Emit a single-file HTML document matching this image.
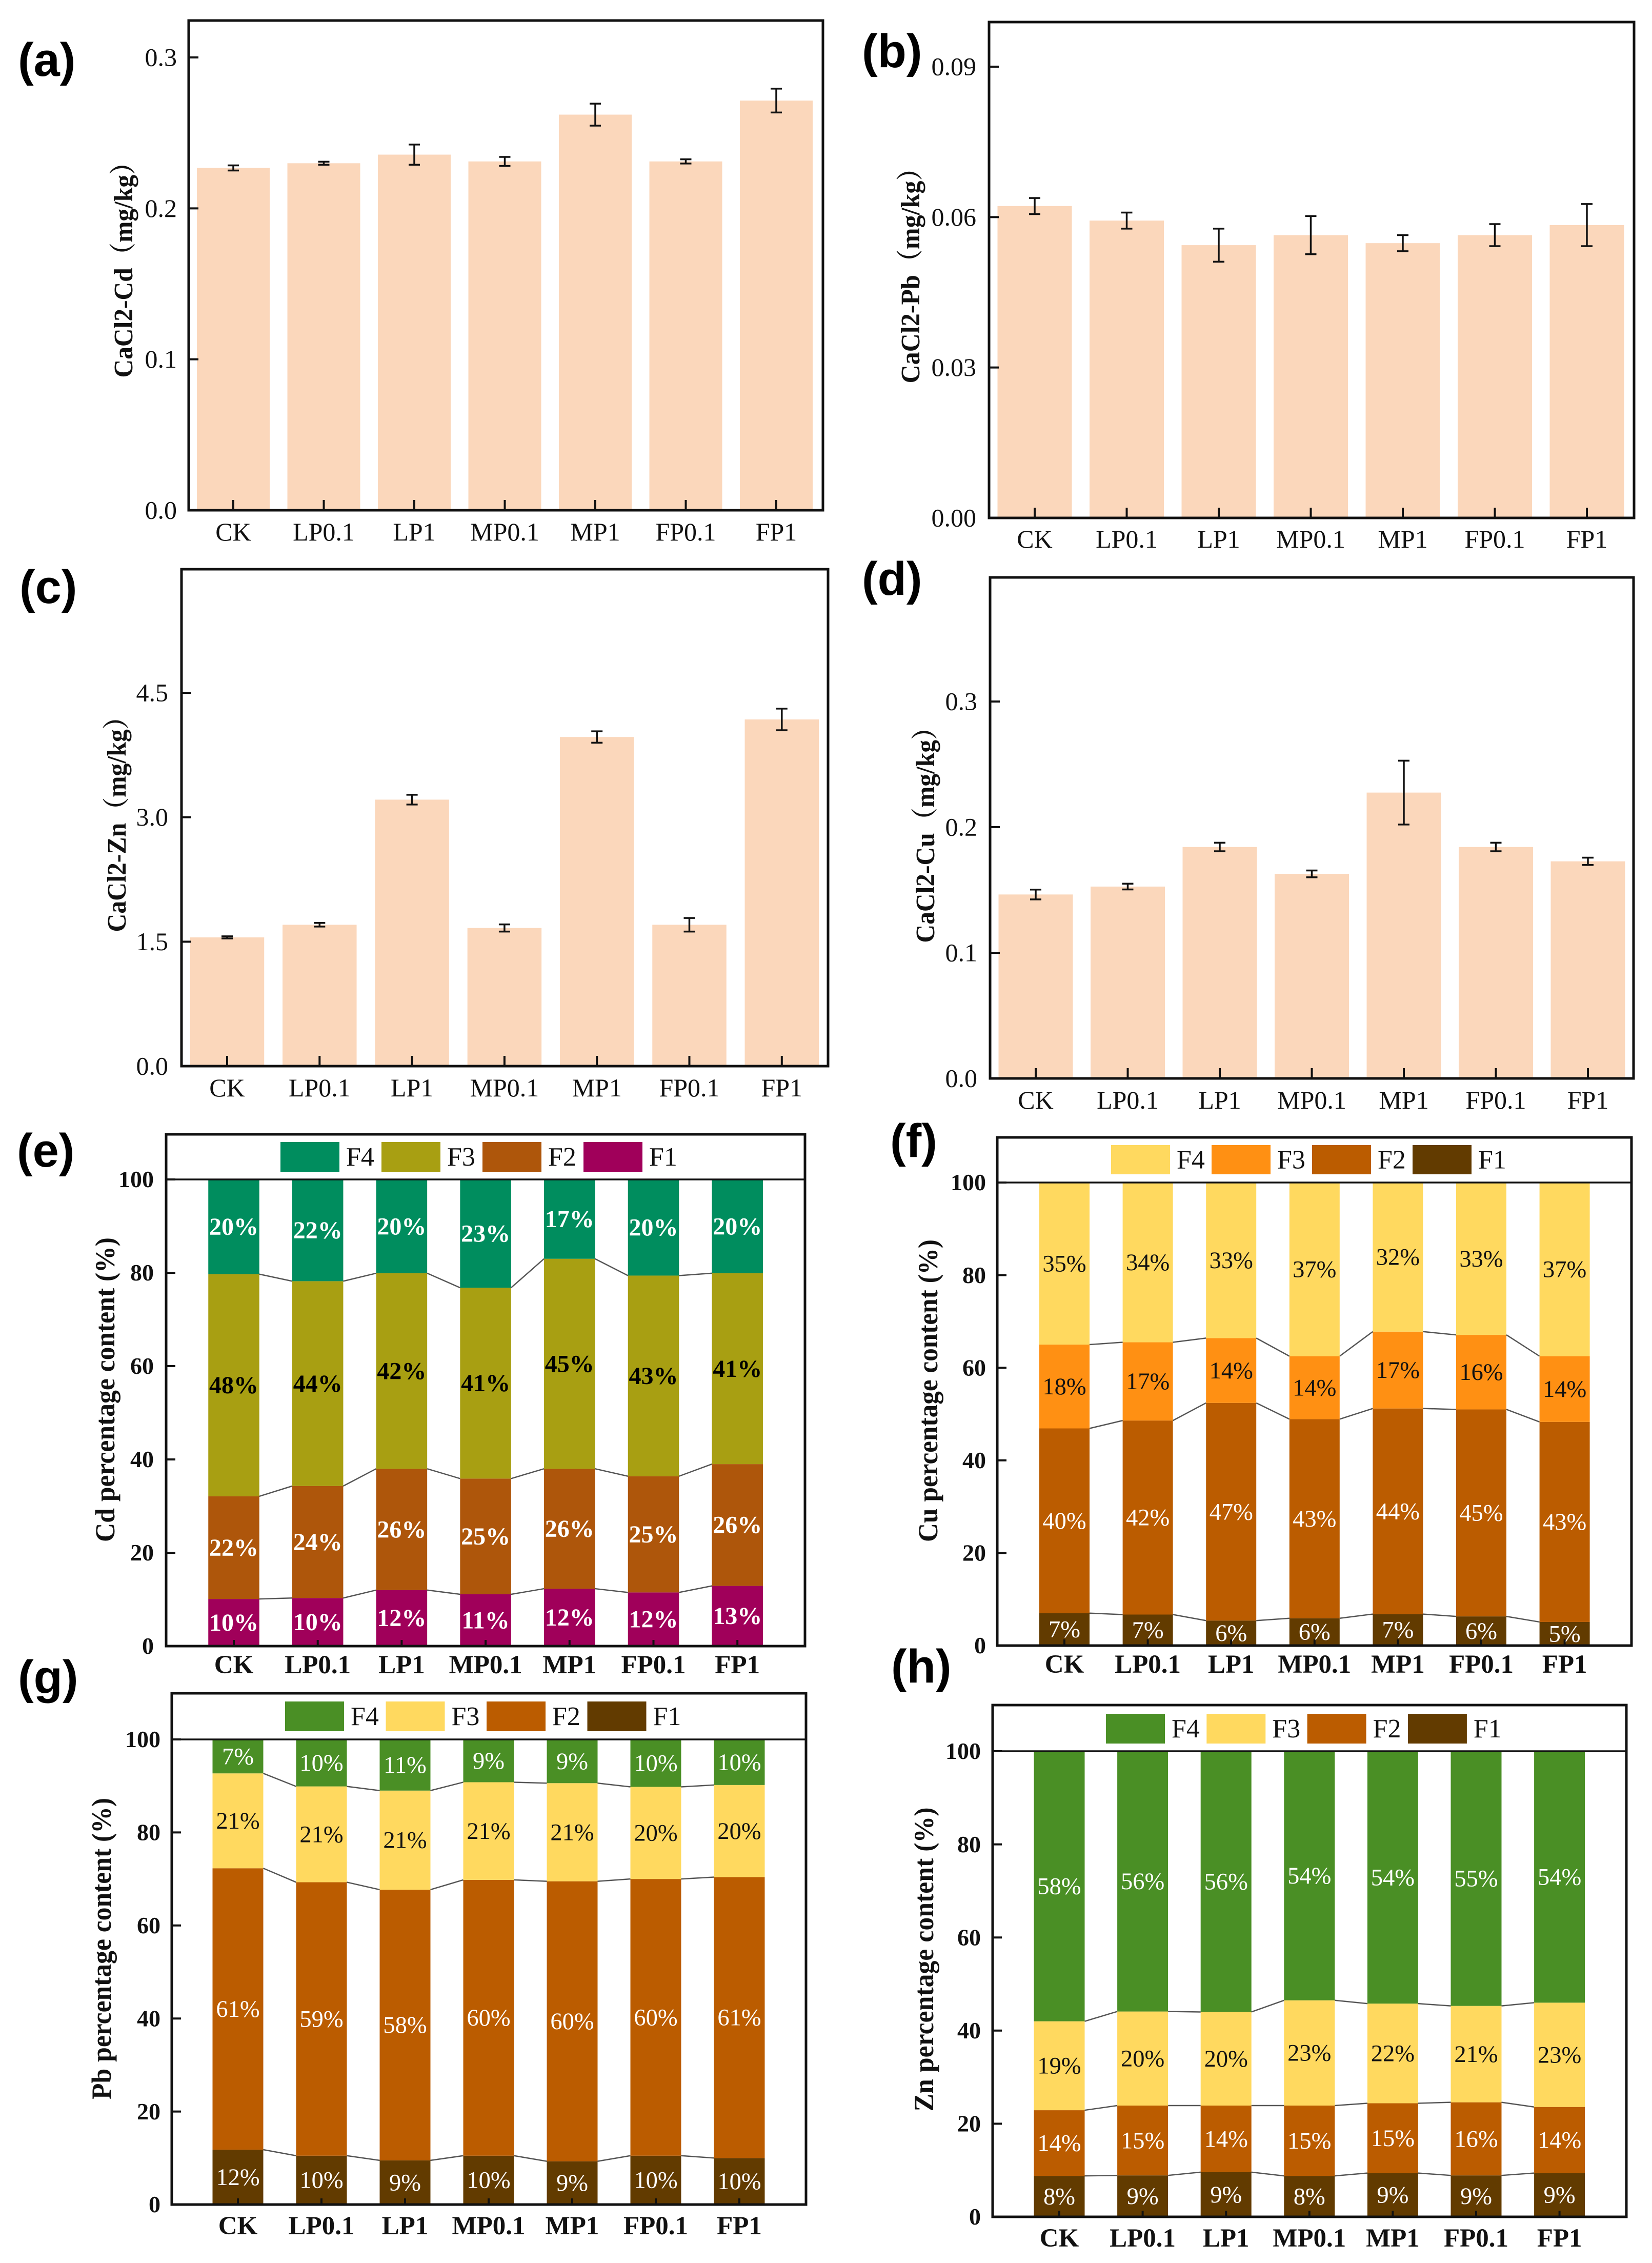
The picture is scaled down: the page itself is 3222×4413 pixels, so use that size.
<!DOCTYPE html>
<html lang="en">
<head>
<meta charset="utf-8">
<title>CaCl2-extractable metals and fraction percentages</title>
<style>
html,body{margin:0;padding:0;background:#fff;}
svg{display:block;}
text{font-family:"Liberation Serif","Noto Serif CJK SC",serif;}
.panel-letter{font-family:"Liberation Sans",sans-serif;font-weight:bold;}
</style>
</head>
<body>
<svg id="figure" xmlns="http://www.w3.org/2000/svg" width="3222" height="4413" viewBox="0 0 3222 4413"></svg>
<script>
const categories = ['CK','LP0.1','LP1','MP0.1','MP1','FP0.1','FP1'];
const legendNames = ['F4','F3','F2','F1'];

const cdMeans = [0.2268,0.2299,0.2356,0.2311,0.2621,0.2311,0.2714];
const cdErrors = [0.0017,0.0010,0.0067,0.0030,0.0073,0.0014,0.0079];
const cdTicks = ['0.0','0.1','0.2','0.3'];
const pbMeans = [0.0622,0.0593,0.0544,0.0564,0.0548,0.0564,0.0584];
const pbErrors = [0.0016,0.0016,0.0033,0.0038,0.0016,0.0022,0.0042];
const pbTicks = ['0.00','0.03','0.06','0.09'];
const znMeans = [1.552,1.704,3.212,1.665,3.967,1.704,4.179];
const znErrors = [0.013,0.022,0.059,0.043,0.069,0.082,0.130];
const znTicks = ['0.0','1.5','3.0','4.5'];
const cuMeans = [0.1464,0.1527,0.1842,0.1628,0.2275,0.1842,0.1728];
const cuErrors = [0.0039,0.0023,0.0034,0.0027,0.0254,0.0034,0.0029];
const cuTicks = ['0.0','0.1','0.2','0.3'];

const percentTicks = ['0','20','40','60','80','100'];

const cdFracF1 = [10.1,10.3,12.0,11.1,12.3,11.5,12.9];
const cdFracF2 = [22.0,24.0,26.0,24.8,25.7,24.9,26.1];
const cdFracF3 = [47.6,43.9,41.9,40.9,45.0,43.0,40.9];
const cdFracF4 = [20.3,21.8,20.1,23.2,17.0,20.6,20.1];
const cdLabelF1 = ['10%','10%','12%','11%','12%','12%','13%'];
const cdLabelF2 = ['22%','24%','26%','25%','26%','25%','26%'];
const cdLabelF3 = ['48%','44%','42%','41%','45%','43%','41%'];
const cdLabelF4 = ['20%','22%','20%','23%','17%','20%','20%'];

const cuFracF1 = [7.0,6.7,5.4,5.9,6.8,6.3,5.1];
const cuFracF2 = [39.9,41.9,47.0,43.0,44.4,44.7,43.2];
const cuFracF3 = [18.1,16.9,14.0,13.6,16.6,16.1,14.2];
const cuFracF4 = [35.0,34.5,33.6,37.5,32.2,32.9,37.5];
const cuLabelF1 = ['7%','7%','6%','6%','7%','6%','5%'];
const cuLabelF2 = ['40%','42%','47%','43%','44%','45%','43%'];
const cuLabelF3 = ['18%','17%','14%','14%','17%','16%','14%'];
const cuLabelF4 = ['35%','34%','33%','37%','32%','33%','37%'];

const pbFracF1 = [11.8,10.5,9.5,10.5,9.3,10.5,10.0];
const pbFracF2 = [60.5,58.8,58.2,59.3,60.2,59.5,60.4];
const pbFracF3 = [20.4,20.6,21.3,21.0,21.1,19.8,19.8];
const pbFracF4 = [7.3,10.1,11.0,9.2,9.4,10.2,9.8];
const pbLabelF1 = ['12%','10%','9%','10%','9%','10%','10%'];
const pbLabelF2 = ['61%','59%','58%','60%','60%','60%','61%'];
const pbLabelF3 = ['21%','21%','21%','21%','21%','20%','20%'];
const pbLabelF4 = ['7%','10%','11%','9%','9%','10%','10%'];

const znFracF1 = [8.8,8.9,9.6,8.8,9.4,8.9,9.4];
const znFracF2 = [14.1,15.0,14.3,15.1,15.0,15.7,14.2];
const znFracF3 = [19.1,20.2,20.1,22.6,21.4,20.7,22.4];
const znFracF4 = [58.0,55.9,56.0,53.5,54.2,54.7,54.0];
const znLabelF1 = ['8%','9%','9%','8%','9%','9%','9%'];
const znLabelF2 = ['14%','15%','14%','15%','15%','16%','14%'];
const znLabelF3 = ['19%','20%','20%','23%','22%','21%','23%'];
const znLabelF4 = ['58%','56%','56%','54%','54%','55%','54%'];

const NS = 'http://www.w3.org/2000/svg';
const figure = document.getElementById('figure');

function shape(parent, tag, attrs) {
  const el = document.createElementNS(NS, tag);
  for (const k in attrs) el.setAttribute(k, attrs[k]);
  parent.appendChild(el);
  return el;
}
function label(parent, content, attrs) {
  const el = shape(parent, 'text', attrs);
  el.textContent = content;
  return el;
}

function drawFrame(g, p, yFn, tickLabels, tickValues, o) {
  for (let i = 0; i < tickLabels.length; i++) {
    const ty = yFn(tickValues[i]);
    const tick = shape(g, 'line', {x1:p.left, x2:p.left + o.tickLeft, y1:ty, y2:ty, stroke:'#111', 'stroke-width':4});
    
    
    const tl = label(g, tickLabels[i], {x:p.tickEnd, y:ty + o.tickFont * 0.33, 'text-anchor':'end', 'font-size':o.tickFont, 'font-weight':o.weight, fill:'#111'});
    
    
  }
  for (let i = 0; i < categories.length; i++) {
    const cx = p.x0 + i * p.step;
    const tick = shape(g, 'line', {x1:cx, x2:cx, y1:p.bottom, y2:p.bottom - o.tickBottom, stroke:'#111', 'stroke-width':4});
    
    
    const tl = label(g, categories[i], {x:cx, y:p.xBase, 'text-anchor':'middle', 'font-size':o.xFont, 'font-weight':o.weight, fill:'#111'});
    
    
  }
  const frame = shape(g, 'rect', {x:p.left, y:p.top, width:p.right - p.left, height:p.bottom - p.top, fill:'none', stroke:'#111', 'stroke-width':5});
  
  
  const tb = p.titleCx + o.titleFont * 0.33;
  const title = label(g, p.title, {x:0, y:0, transform:'translate(' + tb + ',' + p.titleCy + ') rotate(-90)', 'text-anchor':'middle', 'font-size':o.titleFont, 'font-weight':'bold', fill:'#111', textLength:p.titleLen, lengthAdjust:'spacingAndGlyphs'});
  
  
  const letter = label(g, p.letter, {x:p.letterX, y:p.letterY, 'font-size':92, fill:'#000', class:'panel-letter'});
  
  
}

function drawBarPanel(p, means, errors, ticks) {
  const g = shape(figure, 'g', {});
  
  
  const y = v => p.bottom - v / p.tickMax * (p.bottom - p.tickMaxY);
  for (let i = 0; i < means.length; i++) {
    const cx = p.x0 + i * p.step;
    const bar = shape(g, 'rect', {x:cx - p.barW / 2, y:y(means[i]), width:p.barW, height:p.bottom - y(means[i]), fill:'#FBD7BB'});
    
    
  }
  for (let i = 0; i < means.length; i++) {
    const cx = p.x0 + i * p.step;
    const hi = y(means[i] + errors[i]);
    const lo = y(means[i] - errors[i]);
    const err = shape(g, 'path', {d:'M' + (cx - 11) + ' ' + hi + 'H' + (cx + 11) + 'M' + cx + ' ' + hi + 'V' + lo + 'M' + (cx - 11) + ' ' + lo + 'H' + (cx + 11), fill:'none', stroke:'#111', 'stroke-width':3.5});
    
    
  }
  const tickValues = ticks.map(t => parseFloat(t));
  drawFrame(g, p, y, ticks, tickValues, {tickLeft:19, tickBottom:20, tickFont:50, xFont:50, titleFont:52, weight:'normal'});
}

function drawStackPanel(p, f1, f2, f3, f4, l1, l2, l3, l4) {
  const g = shape(figure, 'g', {});
  
  
  const y = v => p.bottom - v / 100 * (p.bottom - p.y100);
  const x = i => p.x0 + i * p.step;
  const layers = [
    {vals:f1, labs:l1, color:p.colors[3], text:p.textColors[3], key:'f1'},
    {vals:f2, labs:l2, color:p.colors[2], text:p.textColors[2], key:'f2'},
    {vals:f3, labs:l3, color:p.colors[1], text:p.textColors[1], key:'f3'},
    {vals:f4, labs:l4, color:p.colors[0], text:p.textColors[0], key:'f4'}
  ];
  const base = categories.map(() => 0);
  layers.forEach((layer, li) => {
    const tops = layer.vals.map((v, i) => base[i] + v);
    for (let i = 0; i < tops.length; i++) {
      const seg = shape(g, 'rect', {x:x(i) - p.barW / 2, y:y(tops[i]), width:p.barW, height:y(base[i]) - y(tops[i]), fill:layer.color});
      
      
    }
    if (li < 3) {
      for (let i = 0; i < tops.length - 1; i++) {
        const link = shape(g, 'line', {x1:x(i) + p.barW / 2, x2:x(i + 1) - p.barW / 2, y1:y(tops[i]), y2:y(tops[i + 1]), stroke:'#555', 'stroke-width':2.5});
        
        
      }
    }
    for (let i = 0; i < tops.length; i++) {
      const mid = y((base[i] + tops[i]) / 2);
      const val = label(g, layer.labs[i], {x:x(i), y:mid + p.valueFont * 0.33, 'text-anchor':'middle', 'font-size':p.valueFont, 'font-weight':p.valueWeight, fill:layer.text});
      
      
    }
    for (let i = 0; i < tops.length; i++) base[i] = tops[i];
  });
  const sep = shape(g, 'line', {x1:p.left, x2:p.right, y1:p.y100, y2:p.y100, stroke:'#111', 'stroke-width':3.5});
  
  
  legendNames.forEach((nm, i) => {
    const lx = p.legendX + i * p.legendStep;
    const sw = shape(g, 'rect', {x:lx, y:p.legendY, width:115, height:p.legendH, fill:p.colors[i]});
    
    
    const tx = label(g, nm, {x:lx + 128, y:p.legendY + p.legendH / 2 + 17, 'font-size':52, fill:'#111'});
    
    
  });
  const tickValues = percentTicks.map(t => parseFloat(t));
  drawFrame(g, p, y, percentTicks, tickValues, {tickLeft:18, tickBottom:12, tickFont:46, xFont:51, titleFont:54, weight:'bold'});
}

const GREEN = '#4A8F25', YEL = '#FFD95F', ORG = '#FF9013', BRN = '#BB5C00', DRK = '#623B00';

drawBarPanel({name:'panel-a-cd', left:368, right:1605, top:40, bottom:995, tickMax:0.3, tickMaxY:112, x0:455, step:176.5, barW:142, tickEnd:345, xBase:1054, title:'CaCl2-Cd（mg/kg）', titleCx:241, titleCy:514, titleLen:445, letter:'(a)', letterX:35, letterY:148}, cdMeans, cdErrors, cdTicks);
drawBarPanel({name:'panel-b-pb', left:1929, right:3187, top:43, bottom:1010, tickMax:0.09, tickMaxY:130, x0:2018, step:179.5, barW:145, tickEnd:1904, xBase:1068, title:'CaCl2-Pb（mg/kg）', titleCx:1776, titleCy:525, titleLen:445, letter:'(b)', letterX:1681, letterY:131}, pbMeans, pbErrors, pbTicks);
drawBarPanel({name:'panel-c-zn', left:354, right:1615, top:1110, bottom:2079, tickMax:4.5, tickMaxY:1351, x0:443, step:180.3, barW:144.5, tickEnd:328, xBase:2138, title:'CaCl2-Zn（mg/kg）', titleCx:228, titleCy:1595, titleLen:445, letter:'(c)', letterX:38, letterY:1176}, znMeans, znErrors, znTicks);
drawBarPanel({name:'panel-d-cu', left:1931, right:3186, top:1126, bottom:2103, tickMax:0.3, tickMaxY:1368, x0:2020, step:179.5, barW:145, tickEnd:1906, xBase:2162, title:'CaCl2-Cu（mg/kg）', titleCx:1805, titleCy:1616, titleLen:445, letter:'(d)', letterX:1681, letterY:1160}, cuMeans, cuErrors, cuTicks);

drawStackPanel({name:'panel-e-cd-fractions', left:324, right:1570, top:2212, bottom:3210, y100:2300, x0:456, step:163.7, barW:99.5, tickEnd:300, xBase:3263, title:'Cd percentage content (%)', titleCx:205, titleCy:2710, titleLen:594, letter:'(e)', letterX:33, letterY:2275, colors:['#008D5E','#A89F12','#AE560B','#A0005A'], textColors:['#fff','#000','#fff','#fff'], valueFont:48, valueWeight:'bold', legendX:547, legendStep:197, legendY:2227, legendH:58}, cdFracF1, cdFracF2, cdFracF3, cdFracF4, cdLabelF1, cdLabelF2, cdLabelF3, cdLabelF4);
drawStackPanel({name:'panel-f-cu-fractions', left:1945, right:3182, top:2218, bottom:3209, y100:2306, x0:2076, step:162.6, barW:98, tickEnd:1923, xBase:3262, title:'Cu percentage content (%)', titleCx:1810, titleCy:2712, titleLen:590, letter:'(f)', letterX:1736, letterY:2256, colors:[YEL,ORG,BRN,DRK], textColors:['#111','#111','#fff','#fff'], valueFont:46.5, valueWeight:'normal', legendX:2167, legendStep:196, legendY:2233, legendH:57}, cuFracF1, cuFracF2, cuFracF3, cuFracF4, cuLabelF1, cuLabelF2, cuLabelF3, cuLabelF4);
drawStackPanel({name:'panel-g-pb-fractions', left:335, right:1572, top:3302, bottom:4299, y100:3392, x0:464, step:163, barW:99, tickEnd:313, xBase:4357, title:'Pb percentage content (%)', titleCx:198, titleCy:3800, titleLen:588, letter:'(g)', letterX:35, letterY:3302, colors:[GREEN,YEL,BRN,DRK], textColors:['#fff','#111','#fff','#fff'], valueFont:46.5, valueWeight:'normal', legendX:556, legendStep:196.5, legendY:3318, legendH:58}, pbFracF1, pbFracF2, pbFracF3, pbFracF4, pbLabelF1, pbLabelF2, pbLabelF3, pbLabelF4);
drawStackPanel({name:'panel-h-zn-fractions', left:1936, right:3172, top:3325, bottom:4323, y100:3415, x0:2066, step:162.6, barW:99, tickEnd:1913, xBase:4381, title:'Zn percentage content (%)', titleCx:1802, titleCy:3821, titleLen:593, letter:'(h)', letterX:1738, letterY:3281, colors:[GREEN,YEL,BRN,DRK], textColors:['#fff','#111','#fff','#fff'], valueFont:46.5, valueWeight:'normal', legendX:2157, legendStep:196.3, legendY:3342, legendH:58}, znFracF1, znFracF2, znFracF3, znFracF4, znLabelF1, znLabelF2, znLabelF3, znLabelF4);
</script>
</body>
</html>
